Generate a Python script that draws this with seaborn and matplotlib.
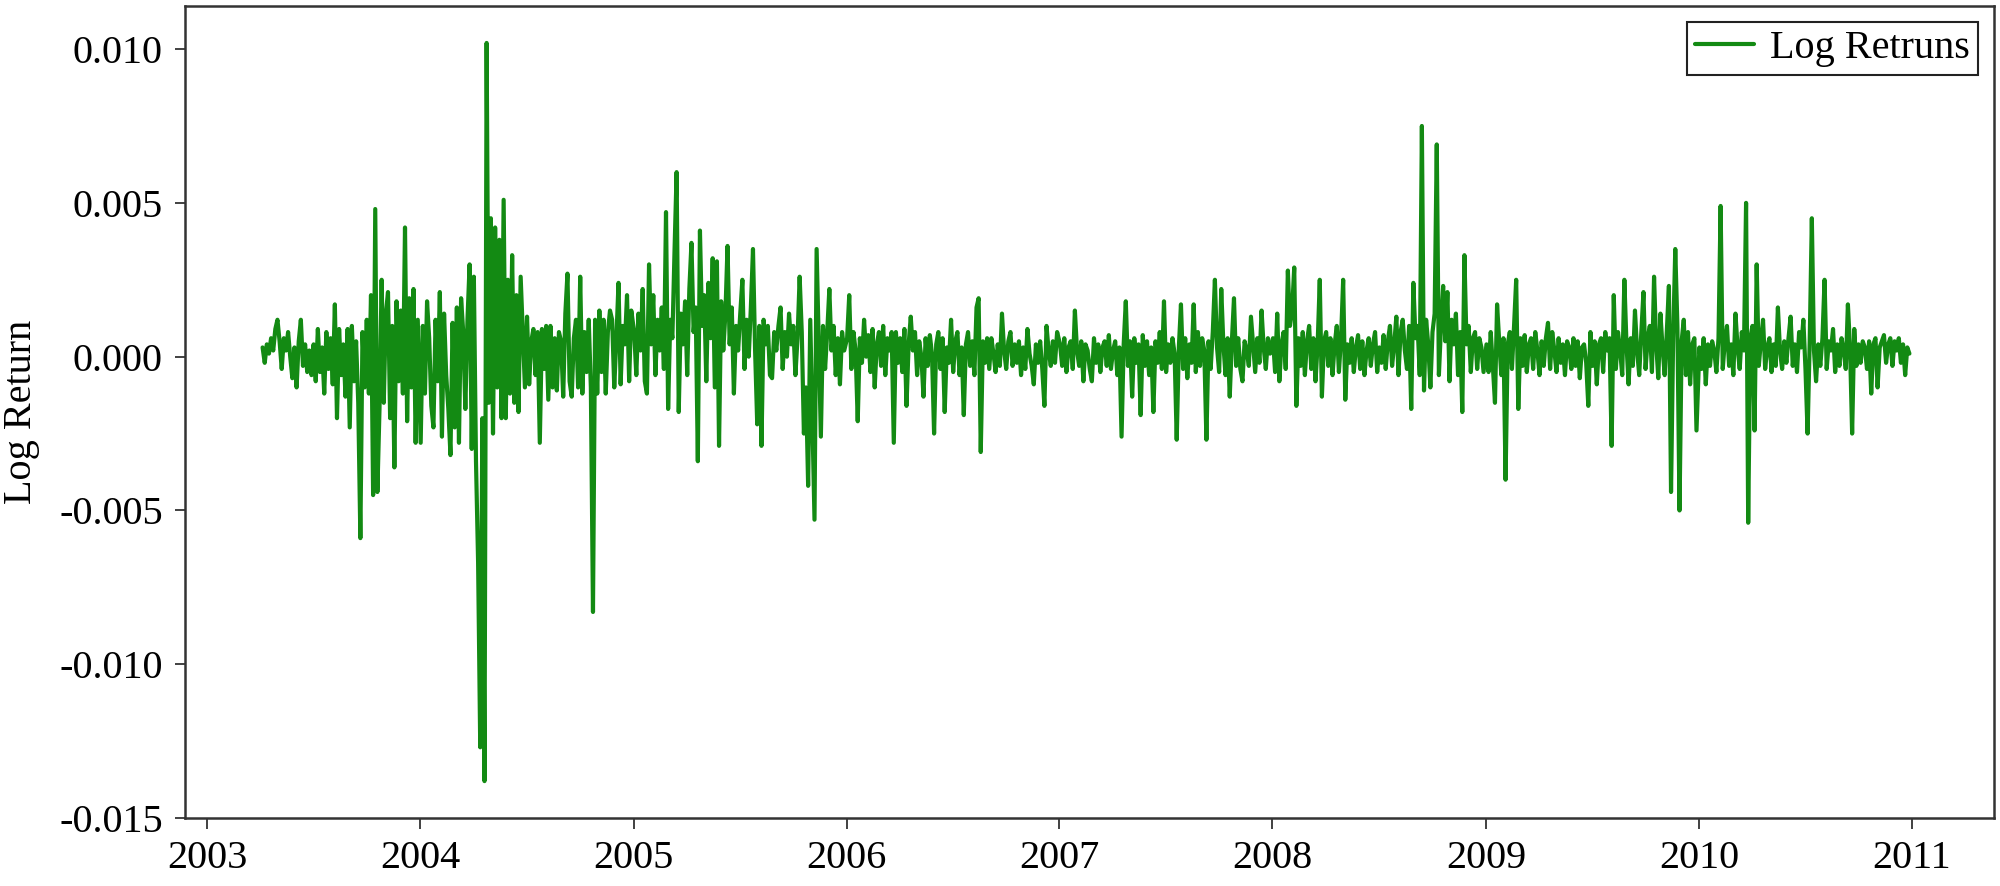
import numpy as np
import pandas as pd
import matplotlib
matplotlib.use("Agg")
import matplotlib.pyplot as plt
import matplotlib.dates as mdates
from matplotlib.ticker import FixedLocator, FuncFormatter
import seaborn as sns

# Log returns, in units of 1e-4, one list per year
r2003 = [3, -2, 4, 1, 6, 2, 9, 12, 5, -4, 6, 2, 8, 0, -7, 3, -10, 5, 12, -3,
         4, -5, 2, -6, 4, -8, 9, -5, 3, -12, 8, -4, 6, -9, 17, -20, 9, -6, 4, -13,
         9, -23, 10, -8, 5, -15, -59, 8, -10, 12, -12, 20, -45, 48, -44, -17, 25, -15, 14, 21,
         -20, 10, -36, 18, -8, 15, -12, 42, -21, 19, -10, 22, -28, 12]
r2004 = [-28, 10, -12, 18, 6, -16, -23, 12, -8, 21, -26, 14, -6, -17, -32, 11, -23, 16, -28, 19,
         8, -17, 12, 30, -30, 26, -34, -67, -127, -20, -138, 102, -15, 45, -25, 42, -10, 38, -20, 51,
         -20, 25, -12, 33, -15, 20, -18, 26, 8, -10, 13, -9, 5, 9, -6, 8, -28, 9, -4, 10,
         -14, 10, -10, 6, -11, 8, 5, -13, 14, 27, -8, -13, 6, 12, -10, 26, -12, 8, -5, 12,
         -10, -83, 12, -12, 15, -5, 12, -12, 8, 15, 12, -10, 6, 24, -9, 10, 4, 20, -8, 15]
r2005 = [8, -6, 14, 2, 22, -8, -12, 30, 4, 20, -6, 12, 2, 16, -4, 47, -17, 12, 6, 34,
         60, -18, 14, 4, 18, -6, 22, 37, 8, 16, -34, 41, 10, 20, -8, 24, 6, 32, -10, 31,
         -29, 18, 2, 14, 36, 4, 16, -12, 10, 2, 14, 25, -4, 12, 0, 16, 35, 2, -22, 10,
         -29, 12, 4, 10, -6, -7, 8, 2, 10, 16, -4, 8, 0, 14, 4, 10, -6, 6, 26, 8,
         -25, -10, -42, 12, -20, -53, 35, 4, -26, 10, -4, 8, 22, 2, 10, -6, 6, -9, 8, 2]
r2006 = [6, 20, -4, 8, 2, -21, 6, -2, 12, 0, 7, -5, 9, -10, 4, 8, -3, 10, -6, 6,
         2, 8, -28, 8, -2, 6, -5, 9, -16, 4, 13, 2, 8, -6, 5, 0, -13, 6, -3, 7,
         1, -25, 4, 8, -4, 6, -18, 3, -2, 12, -5, 5, 8, -6, 3, -19, 4, 8, -3, 5,
         -6, 16, 19, -31, 5, -2, 6, -4, 6, 1, -5, 4, -3, 14, 2, -4, 5, 8, -3, 4,
         -2, 5, -6, 3, -4, 9, 1, -3, -9, 4, -2, 5, -4, -16, 10, 2, -3, 5, -2, 8]
r2007 = [4, -3, 6, -5, 3, 5, -4, 15, 2, -3, 5, -8, 4, 2, -4, -8, 6, -2, 4, -5,
         3, 5, -3, 7, -4, 2, 5, -6, 3, -26, 4, 18, -3, 5, -13, 6, -2, 4, -19, 7,
         -3, 5, -6, 3, -18, 5, -2, 8, -4, 18, -5, 4, -2, 6, 1, -27, 3, 17, -4, 6,
         -7, 4, -2, 17, -5, 8, -3, 6, 2, -27, 5, -4, 8, 25, 3, -5, 22, 4, -6, 6,
         -13, 5, 19, -3, 6, -4, -8, 5, 2, -3, 13, 4, -5, 6, -2, 15, 3, -4, 6, 1]
r2008 = [6, -5, 14, -8, 4, 8, -4, 28, 10, 15, 29, -16, 6, -3, 8, -6, 5, 10, -4, 6,
         -8, 4, 25, -13, 5, 8, -3, 6, -6, 4, 10, -5, 6, 25, -14, 4, -2, 6, -5, 3,
         7, -4, 5, -6, 2, 6, -3, 4, 8, -5, 3, -2, 7, -4, 5, 10, -3, 4, 13, -6,
         8, 12, 2, -4, 10, -17, 24, 6, 10, -6, 75, -11, 12, 4, -10, 8, 14, 69, -6, 10,
         23, 5, 21, -8, 12, 4, 14, -6, 8, -18, 33, 4, 10, -5, 6, 8, -4, 6, 3, -5]
r2009 = [4, -5, 8, -3, -15, 17, 5, -6, 6, -40, 4, 8, -4, 10, 25, -17, 6, -3, 7, -5,
         4, 6, -4, 8, 2, -6, 5, -3, 6, 11, -4, 8, 2, -5, 6, -2, 4, -6, 5, 3,
         -4, 6, -3, 5, -7, 3, 4, -2, -16, 8, -3, 5, -9, 4, 6, -5, 8, 2, 6, -29,
         20, -4, 8, 2, -6, 25, 4, -9, 6, -3, 15, 2, -6, 8, 21, -4, 6, 10, -5, 26,
         4, -7, 14, 3, -6, 8, 23, -44, 6, 35, 10, -50, 5, 12, -6, 8, -9, 4, 6, -24]
r2010 = [3, -4, 6, -9, 4, -3, 5, 2, -5, 6, 49, -4, 5, 10, -3, 4, -6, 14, 3, -4,
         8, 2, 50, -54, 6, 10, -24, 30, -3, 5, 12, -4, 3, 6, -5, 4, -3, 16, 2, -4,
         5, -2, 6, 13, -3, 4, -5, 8, 3, 12, -4, -25, 5, 45, 2, -8, 4, -3, 6, 25,
         -4, 5, 2, 9, -5, 4, -3, 6, 2, -4, 17, 3, -25, 9, -3, 4, -2, 5, 3, -4,
         5, -12, 4, 6, -10, 3, 5, 7, -2, 4, 6, -3, 5, 2, 6, -2, 4, -6, 3, 1]

# (first date, last date, values) for each year
segments = [
    ("2003-04-06", "2003-12-28", r2003),
    ("2004-01-02", "2004-12-28", r2004),
    ("2005-01-02", "2005-12-28", r2005),
    ("2006-01-02", "2006-12-28", r2006),
    ("2007-01-02", "2007-12-28", r2007),
    ("2008-01-02", "2008-12-28", r2008),
    ("2009-01-02", "2009-12-28", r2009),
    ("2010-01-02", "2010-12-28", r2010),
]

frames = []
for start, end, vals in segments:
    dates = pd.date_range(start, end, periods=len(vals))
    frames.append(pd.DataFrame({"Date": dates, "Log Return": np.array(vals, float) * 1e-4}))
df = pd.concat(frames, ignore_index=True)

sns.set_style("white")
plt.rcParams["font.family"] = ["Liberation Serif", "DejaVu Serif"]
plt.rcParams["axes.unicode_minus"] = False
plt.rcParams["text.color"] = "black"

FS = 29
fig = plt.figure(figsize=(20, 8.86), dpi=100)
ax = fig.add_axes([0.0925, 0.0767, 0.9045, 0.9165])

sns.lineplot(data=df, x="Date", y="Log Return", ax=ax, color="#138a13",
             linewidth=3.0, estimator=None, sort=False, label="Log Retruns")

ax.set_xlim(pd.Timestamp("2002-11-24"), pd.Timestamp("2011-05-22"))
ax.set_ylim(-0.015, 0.0114)
ax.xaxis.set_major_locator(mdates.YearLocator())
ax.xaxis.set_major_formatter(mdates.DateFormatter("%Y"))
ax.yaxis.set_major_locator(FixedLocator([-0.015, -0.010, -0.005, 0.0, 0.005, 0.010]))
ax.yaxis.set_major_formatter(FuncFormatter(lambda v, p: f"{v:.3f}".replace("-0.000", "0.000")))

ax.set_xlabel("")
ax.set_ylabel("Log Return", fontsize=FS, color="black")
ax.yaxis.set_label_coords(-0.08, 0.5)

ax.tick_params(axis="x", bottom=True, direction="out", length=8, width=1.3,
               color="#333333", labelsize=FS, labelcolor="black", pad=8)
ax.tick_params(axis="y", left=True, direction="out", length=7, width=1.3,
               color="#333333", labelsize=FS, labelcolor="black", pad=9)

for s in ax.spines.values():
    s.set_visible(True)
    s.set_color("#333333")
    s.set_linewidth(1.8)

leg = ax.legend(loc="upper right", fontsize=FS, frameon=True, fancybox=False,
                edgecolor="#222222", framealpha=1, borderpad=0.2,
                borderaxespad=0.4, handlelength=1.45, handletextpad=0.4)
leg.get_frame().set_linewidth(1.5)
for t in leg.get_texts():
    t.set_color("black")

fig.savefig("out.png", dpi=100)
